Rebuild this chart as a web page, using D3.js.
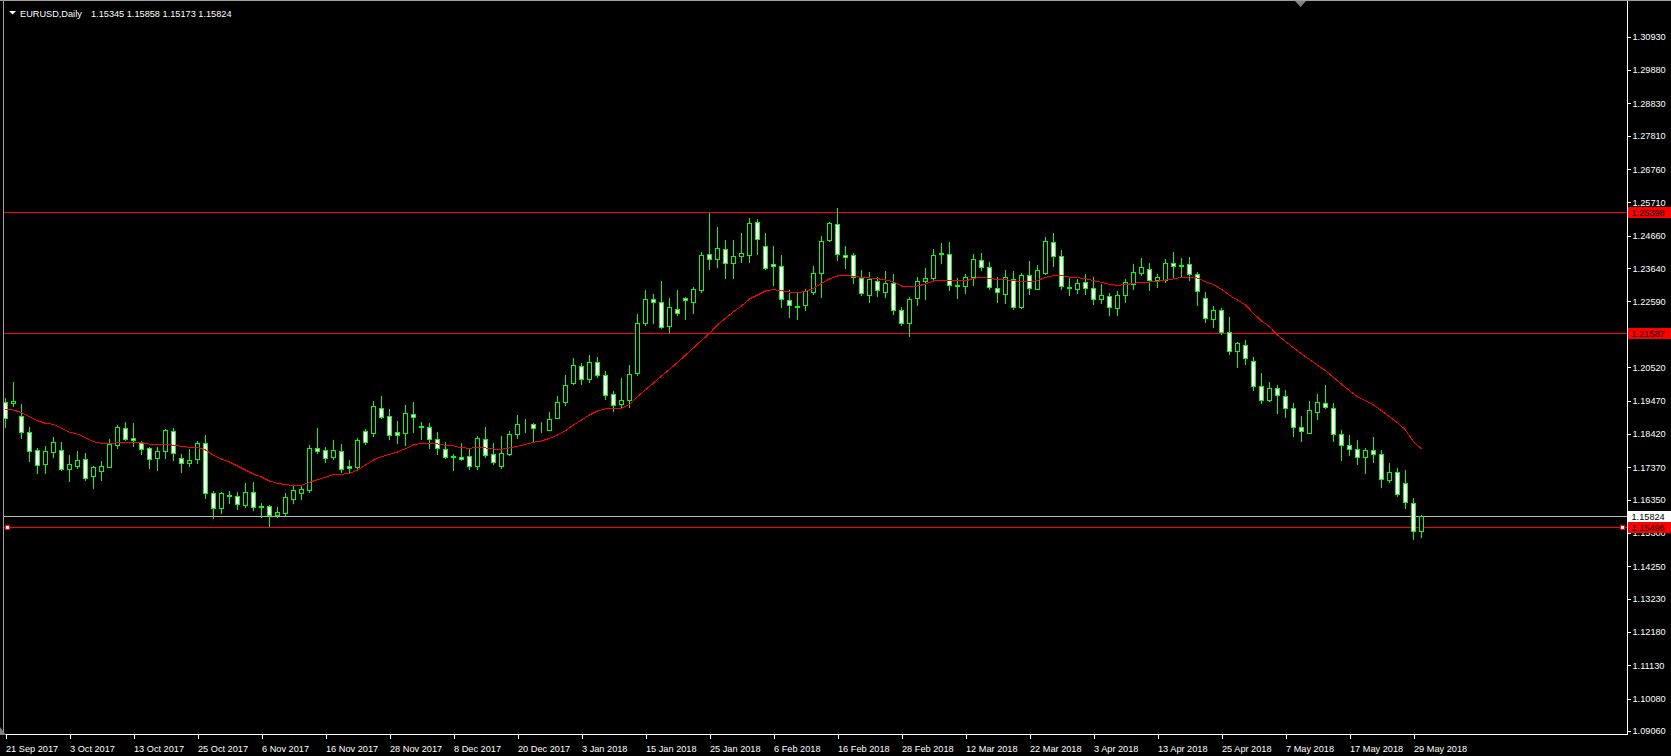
<!DOCTYPE html>
<html><head><meta charset="utf-8">
<script src="https://cdn.jsdelivr.net/npm/d3@7"></script>
<style>
html,body{margin:0;padding:0;background:#000;overflow:hidden;}
svg{display:block;}
text{font-family:"Liberation Sans",Arial,sans-serif;}
</style></head><body>
<svg id="chart" width="1671" height="756"></svg>
<script>
const symbol = "EURUSD,Daily";
const openP = [1.19413,1.19402,1.18982,1.18478,1.17911,1.17481,1.17859,1.17911,1.17323,1.17418,1.17628,1.17103,1.17260,1.17386,1.18079,1.18594,1.18279,1.18132,1.17974,1.17670,1.17869,1.18499,1.17659,1.17491,1.17617,1.18121,1.16546,1.16074,1.16473,1.16462,1.16189,1.16578,1.16116,1.16137,1.15874,1.15927,1.16378,1.16567,1.16662,1.17964,1.17901,1.17701,1.17880,1.17397,1.17386,1.18510,1.18457,1.19224,1.18982,1.18478,1.18457,1.19035,1.18636,1.18626,1.18258,1.17933,1.17681,1.17681,1.17712,1.17397,1.18248,1.17775,1.17418,1.17796,1.18405,1.18689,1.18720,1.18594,1.18552,1.18930,1.19413,1.20033,1.20547,1.20138,1.20673,1.20264,1.19665,1.19350,1.19476,1.20327,1.21922,1.22657,1.22563,1.21828,1.22342,1.22689,1.22584,1.22962,1.24075,1.23917,1.24232,1.23791,1.24012,1.24043,1.25083,1.24327,1.23770,1.23707,1.22626,1.22437,1.22468,1.22878,1.23497,1.24516,1.25020,1.24043,1.24043,1.23340,1.22804,1.23224,1.22899,1.23161,1.22311,1.21922,1.22689,1.23224,1.23340,1.24085,1.24075,1.23077,1.23067,1.23350,1.23886,1.23665,1.23025,1.22815,1.23308,1.22405,1.23413,1.22993,1.23476,1.24453,1.24012,1.23014,1.22972,1.23193,1.23025,1.22678,1.22773,1.22374,1.22783,1.23140,1.23497,1.23623,1.23256,1.23277,1.23791,1.23707,1.23760,1.23445,1.22689,1.22048,1.22311,1.21618,1.21019,1.21229,1.20725,1.19917,1.19497,1.19875,1.19602,1.19224,1.18625,1.18457,1.19119,1.19381,1.19224,1.18405,1.18058,1.17932,1.17680,1.17901,1.17775,1.16977,1.17208,1.16861,1.16231,1.15345];
const highP = [1.19539,1.20043,1.19360,1.18625,1.17985,1.18027,1.18321,1.18163,1.17754,1.17880,1.17817,1.17418,1.17575,1.18258,1.18709,1.18793,1.18772,1.18195,1.18006,1.18016,1.18562,1.18604,1.17775,1.17943,1.18195,1.18373,1.16630,1.16578,1.16620,1.16578,1.16861,1.16893,1.16231,1.16168,1.16105,1.16546,1.16798,1.16777,1.18069,1.18594,1.17995,1.18226,1.18100,1.17596,1.18300,1.18573,1.19455,1.19612,1.19192,1.18825,1.19329,1.19423,1.18804,1.18762,1.18479,1.18153,1.17786,1.18122,1.17943,1.18364,1.18626,1.18132,1.18343,1.18510,1.19014,1.18888,1.18752,1.18783,1.19109,1.19602,1.20274,1.20799,1.20652,1.20904,1.20831,1.20411,1.19770,1.20169,1.20589,1.22185,1.22951,1.22825,1.23235,1.22689,1.22951,1.22720,1.23035,1.24138,1.25387,1.24925,1.24526,1.24526,1.24746,1.25209,1.25177,1.24746,1.24337,1.24054,1.22951,1.22857,1.22972,1.23707,1.24652,1.25083,1.25534,1.24337,1.24127,1.23581,1.23518,1.23371,1.23550,1.23445,1.22405,1.22720,1.23350,1.23634,1.24243,1.24432,1.24463,1.23329,1.23445,1.24085,1.24117,1.23823,1.23350,1.23581,1.23539,1.23476,1.23865,1.23739,1.24621,1.24747,1.24201,1.23361,1.23287,1.23455,1.23350,1.23151,1.22867,1.22920,1.23287,1.23760,1.23959,1.23791,1.23455,1.23928,1.24138,1.23959,1.23980,1.23508,1.22888,1.22447,1.22374,1.22101,1.21324,1.21376,1.20830,1.20326,1.20064,1.19948,1.19801,1.19392,1.18982,1.19444,1.19675,1.19959,1.19392,1.18541,1.18373,1.18226,1.17974,1.18310,1.17911,1.17502,1.17344,1.17281,1.16410,1.15858];
const lowP = [1.18646,1.19308,1.18300,1.17575,1.17176,1.17187,1.17680,1.17281,1.16945,1.17355,1.16966,1.16704,1.16966,1.17365,1.17985,1.18216,1.18037,1.17785,1.17344,1.17281,1.17659,1.17596,1.17229,1.17418,1.17512,1.16410,1.15759,1.15937,1.16252,1.16063,1.16126,1.16011,1.15811,1.15517,1.15790,1.15864,1.16231,1.16378,1.16599,1.17827,1.17544,1.17628,1.17229,1.17208,1.17323,1.18111,1.18363,1.18930,1.18258,1.18142,1.18069,1.18489,1.18258,1.17985,1.17786,1.17660,1.17282,1.17597,1.17313,1.17313,1.17702,1.17471,1.17355,1.17754,1.18279,1.18489,1.18174,1.18468,1.18531,1.18909,1.19329,1.19980,1.20001,1.20043,1.20211,1.19518,1.19151,1.19245,1.19266,1.20274,1.21859,1.21922,1.21754,1.21639,1.22153,1.22048,1.22216,1.22899,1.23613,1.23686,1.23340,1.23340,1.23844,1.23844,1.24075,1.23613,1.23119,1.22426,1.22111,1.22048,1.22332,1.22825,1.22741,1.24484,1.23896,1.23655,1.23182,1.22804,1.22573,1.22773,1.22741,1.22206,1.21849,1.21502,1.22479,1.22678,1.23235,1.23812,1.22951,1.22699,1.22867,1.23119,1.23571,1.22993,1.22584,1.22552,1.22363,1.22384,1.22836,1.22972,1.23455,1.23718,1.22993,1.22794,1.22857,1.22815,1.22521,1.22531,1.22164,1.22164,1.22584,1.22983,1.23424,1.22951,1.23056,1.23214,1.23319,1.23392,1.23277,1.22479,1.21954,1.21796,1.21565,1.20935,1.20526,1.20620,1.19801,1.19381,1.19444,1.19087,1.18961,1.18363,1.18205,1.18436,1.18888,1.19245,1.18205,1.17607,1.17743,1.17481,1.17176,1.17544,1.16756,1.16914,1.16473,1.16074,1.15097,1.15173];
const closeP = [1.18909,1.19444,1.18489,1.17890,1.17449,1.17880,1.18163,1.17323,1.17470,1.17596,1.17040,1.17365,1.17397,1.18100,1.18625,1.18268,1.18216,1.17953,1.17638,1.17880,1.18531,1.17806,1.17491,1.17586,1.18121,1.16546,1.16074,1.16546,1.16504,1.16200,1.16578,1.16105,1.16147,1.15874,1.15948,1.16431,1.16641,1.16672,1.17964,1.17890,1.17670,1.17901,1.17323,1.17334,1.18226,1.18174,1.19297,1.18961,1.18394,1.18394,1.19077,1.18961,1.18657,1.18269,1.17964,1.17702,1.17712,1.17618,1.17397,1.18300,1.17765,1.17545,1.17807,1.18405,1.18720,1.18710,1.18594,1.18605,1.18878,1.19424,1.19949,1.20589,1.20138,1.20673,1.20285,1.19655,1.19340,1.19476,1.20295,1.21902,1.22657,1.22563,1.21775,1.22405,1.22216,1.22626,1.22972,1.24054,1.23917,1.24264,1.23791,1.24012,1.24106,1.25051,1.24547,1.23634,1.23697,1.22678,1.22468,1.22426,1.22909,1.23476,1.24484,1.25051,1.24075,1.23980,1.23350,1.22846,1.23287,1.22941,1.23161,1.22311,1.21922,1.22657,1.23224,1.23319,1.24043,1.24106,1.23098,1.23098,1.23350,1.23917,1.23665,1.23035,1.22888,1.23350,1.22405,1.23413,1.23004,1.23571,1.24484,1.24012,1.23077,1.23035,1.23161,1.23004,1.22657,1.22783,1.22405,1.22783,1.23193,1.23529,1.23665,1.23256,1.23350,1.23791,1.23707,1.23728,1.23455,1.22909,1.22059,1.22311,1.21618,1.21019,1.21292,1.20799,1.19917,1.19497,1.19875,1.19633,1.19224,1.18646,1.18520,1.19161,1.19423,1.19255,1.18405,1.18079,1.17953,1.17680,1.17911,1.17775,1.16987,1.17208,1.16515,1.16263,1.15349,1.15824];
const maP = [1.19192,1.19171,1.19087,1.18961,1.18835,1.18751,1.18720,1.18594,1.18468,1.18415,1.18300,1.18174,1.18121,1.18111,1.18142,1.18163,1.18153,1.18142,1.18100,1.18100,1.18100,1.18058,1.18027,1.17995,1.17995,1.17911,1.17740,1.17628,1.17533,1.17407,1.17281,1.17155,1.17061,1.16935,1.16861,1.16819,1.16798,1.16798,1.16893,1.16977,1.17050,1.17145,1.17145,1.17176,1.17281,1.17439,1.17596,1.17701,1.17775,1.17848,1.17953,1.18069,1.18121,1.18122,1.18101,1.18059,1.18038,1.17985,1.17964,1.17996,1.17975,1.17943,1.17933,1.17975,1.18027,1.18090,1.18153,1.18195,1.18279,1.18384,1.18521,1.18699,1.18857,1.19014,1.19140,1.19203,1.19224,1.19224,1.19350,1.19592,1.19810,1.20020,1.20240,1.20450,1.20670,1.20900,1.21130,1.21360,1.21586,1.21849,1.22059,1.22268,1.22447,1.22667,1.22794,1.22920,1.22962,1.22930,1.22888,1.22877,1.22898,1.23004,1.23161,1.23298,1.23392,1.23413,1.23380,1.23350,1.23329,1.23308,1.23266,1.23214,1.23077,1.23046,1.23077,1.23140,1.23235,1.23256,1.23266,1.23235,1.23235,1.23319,1.23350,1.23319,1.23277,1.23277,1.23245,1.23214,1.23214,1.23245,1.23350,1.23403,1.23403,1.23360,1.23339,1.23308,1.23245,1.23193,1.23130,1.23098,1.23119,1.23161,1.23193,1.23203,1.23224,1.23266,1.23298,1.23350,1.23361,1.23329,1.23214,1.23119,1.22972,1.22783,1.22636,1.22479,1.22216,1.21975,1.21796,1.21534,1.21330,1.21130,1.20940,1.20760,1.20580,1.20410,1.20200,1.19990,1.19780,1.19591,1.19465,1.19329,1.19150,1.18961,1.18772,1.18541,1.18174,1.17943];
const dateLabels = ["21 Sep 2017","3 Oct 2017","13 Oct 2017","25 Oct 2017","6 Nov 2017","16 Nov 2017","28 Nov 2017","8 Dec 2017","20 Dec 2017","3 Jan 2018","15 Jan 2018","25 Jan 2018","6 Feb 2018","16 Feb 2018","28 Feb 2018","12 Mar 2018","22 Mar 2018","3 Apr 2018","13 Apr 2018","25 Apr 2018","7 May 2018","17 May 2018","29 May 2018"];
const labelEvery = 8;
const priceTicks = [1.30930,1.29880,1.28830,1.27810,1.26760,1.25710,1.24660,1.23640,1.22590,1.21540,1.20520,1.19470,1.18420,1.17370,1.16350,1.15300,1.14250,1.13230,1.12180,1.11130,1.10080,1.09060];
const levelLines = [1.25398, 1.21587, 1.15496];
const bidPrice = 1.15824;

const W = 1671, H = 756;
const plotL = 3.5, plotR = 1627.5, plotT = 0.5, plotB = 734.5;
const GREEN = "#00ff00", RED = "#ff0000";
const FONT = 9.2;
const svg = d3.select("#chart");
svg.append("rect").attr("width", W).attr("height", H).attr("fill", "#000");

const n = closeP.length;
const x = d3.scaleLinear().domain([0, n - 1]).range([5.5, 5.5 + 8 * (n - 1)]);
const y = d3.scaleLinear().domain([1.09060, 1.30930]).range([731, 36.7]);

svg.append("defs").append("clipPath").attr("id", "plotclip")
  .append("rect").attr("x", plotL + 0.5).attr("y", plotT + 0.5)
  .attr("width", plotR - plotL - 1).attr("height", plotB - plotT - 1);
const plot = svg.append("g").attr("clip-path", "url(#plotclip)");

// horizontal level lines
const lineG = plot.append("g").attr("shape-rendering", "crispEdges");
lineG.selectAll("line.lvl").data(levelLines).join("line")
  .attr("x1", plotL).attr("x2", plotR)
  .attr("y1", d => Math.round(y(d)) + 0.5).attr("y2", d => Math.round(y(d)) + 0.5)
  .attr("stroke", RED).attr("stroke-width", 1);
lineG.append("line")
  .attr("x1", plotL).attr("x2", plotR)
  .attr("y1", Math.round(y(bidPrice)) + 0.5).attr("y2", Math.round(y(bidPrice)) + 0.5)
  .attr("stroke", "#b8b8b8").attr("stroke-width", 1);

// candles
const idx = d3.range(n);
const cg = plot.append("g").attr("shape-rendering", "crispEdges");
cg.selectAll("line.wick").data(idx).join("line")
  .attr("x1", i => x(i)).attr("x2", i => x(i))
  .attr("y1", i => Math.round(y(highP[i]))).attr("y2", i => Math.round(y(lowP[i])) + 1)
  .attr("stroke", GREEN).attr("stroke-width", 1);
cg.selectAll("rect.body").data(idx).join("rect")
  .attr("x", i => x(i) - 2)
  .attr("y", i => Math.round(y(Math.max(openP[i], closeP[i]))) + 0.5)
  .attr("width", 4)
  .attr("height", i => Math.max(0, Math.round(y(Math.min(openP[i], closeP[i]))) - Math.round(y(Math.max(openP[i], closeP[i])))))
  .attr("fill", i => closeP[i] < openP[i] ? "#ffffff" : "#000000")
  .attr("stroke", GREEN).attr("stroke-width", 1);

// moving average
plot.append("path").datum(idx)
  .attr("d", d3.line().x(i => x(i)).y(i => y(maP[i])))
  .attr("fill", "none").attr("stroke", RED).attr("stroke-width", 1)
  .attr("shape-rendering", "crispEdges");

// selected line handles
const selY = Math.round(y(levelLines[2])) + 0.5;
[[5, selY], [1620, selY]].forEach(([hx, hy]) => {
  svg.append("rect").attr("x", hx + 0.5).attr("y", hy - 2).attr("width", 4).attr("height", 4)
    .attr("fill", "#fff").attr("stroke", RED).attr("stroke-width", 1).attr("shape-rendering", "crispEdges");
});

// frame
const fr = svg.append("g").attr("shape-rendering", "crispEdges");
fr.append("line").attr("x1", 0).attr("x2", W).attr("y1", plotT).attr("y2", plotT).attr("stroke", "#a0a0a0");
fr.append("line").attr("x1", plotL).attr("x2", plotL).attr("y1", plotT).attr("y2", plotB).attr("stroke", "#a0a0a0");
fr.append("line").attr("x1", plotR).attr("x2", plotR).attr("y1", plotT).attr("y2", plotB).attr("stroke", "#ffffff");
fr.append("line").attr("x1", plotL).attr("x2", plotR).attr("y1", plotB).attr("y2", plotB).attr("stroke", "#ffffff");

// price axis
const yAxis = d3.axisRight(y).tickValues(priceTicks).tickSize(3).tickPadding(2)
  .tickFormat(d3.format(".5f"));
const ya = svg.append("g").attr("transform", `translate(${plotR},0)`).call(yAxis);
ya.select(".domain").remove();
ya.selectAll(".tick line").attr("stroke", "#fff").attr("shape-rendering", "crispEdges");
ya.selectAll(".tick text").attr("fill", "#fff").attr("font-size", FONT)
  .attr("font-family", '"Liberation Sans", Arial, sans-serif');

// time axis
const tickBars = dateLabels.map((_, k) => k * labelEvery);
const xAxis = d3.axisBottom(x).tickValues(tickBars).tickSize(4)
  .tickFormat((d, k) => dateLabels[k]);
const xa = svg.append("g").attr("transform", `translate(0,${plotB})`).call(xAxis);
xa.select(".domain").remove();
xa.selectAll(".tick line").attr("stroke", "#fff").attr("shape-rendering", "crispEdges");
xa.selectAll(".tick text").attr("fill", "#fff").attr("font-size", FONT)
  .attr("font-family", '"Liberation Sans", Arial, sans-serif')
  .attr("text-anchor", "start").attr("x", 0).attr("y", 17.5).attr("dy", null);

// price labels of lines
const lbl = [
  ...levelLines.map(v => ({ v, bg: RED })),
  { v: bidPrice, bg: "#ffffff" }
];
const lg = svg.append("g");
lbl.forEach(d => {
  const cy = Math.round(y(d.v)) + 0.5;
  lg.append("rect").attr("x", plotR + 0.5).attr("y", cy - 5.5).attr("width", W - plotR).attr("height", 11)
    .attr("fill", d.bg).attr("shape-rendering", "crispEdges");
  lg.append("text").attr("x", plotR + 4).attr("y", cy).attr("dy", "0.34em")
    .attr("fill", "#000").attr("font-size", FONT).text(d3.format(".5f")(d.v));
});

// title
svg.append("path").attr("d", "M9,11 L16,11 L12.5,14.5 Z").attr("fill", "#fff");
svg.append("text").attr("x", 20).attr("y", 16.5).attr("fill", "#fff").attr("font-size", FONT).text(symbol);
svg.append("text").attr("x", 91).attr("y", 16.5).attr("fill", "#fff").attr("font-size", FONT)
  .text([openP[n - 1], highP[n - 1], lowP[n - 1], closeP[n - 1]].map(d3.format(".5f")).join(" "));

// chart shift marker & corner marker
svg.append("path").attr("d", "M1295,1 L1306,1 L1300.5,7 Z").attr("fill", "#808080");
svg.append("path").attr("d", "M0,727 L0,735 L6,735 Z").attr("fill", "#808080");
</script>
</body></html>
